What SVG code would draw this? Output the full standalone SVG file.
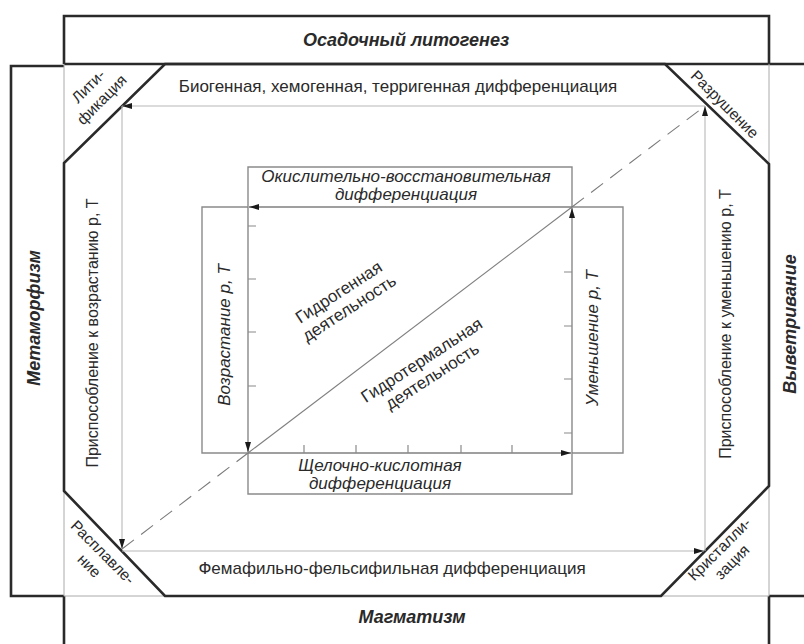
<svg xmlns="http://www.w3.org/2000/svg" width="804" height="644" viewBox="0 0 804 644">
<style>
.t{font-family:"Liberation Sans",Arial,sans-serif;fill:#2a2a2a}
.lab{font-size:17px}
.side{font-size:16px}
.it{font-style:italic}
.bi{font-size:18px;font-weight:bold;font-style:italic}
.cor{font-size:15.5px}
.thick{fill:none;stroke:#2a2a2a;stroke-width:2.6}
.thin{fill:none;stroke:#aaaaaa;stroke-width:1}
.box{fill:none;stroke:#8a8a8a;stroke-width:1.4}
.loop{fill:none;stroke:#b8b8b8;stroke-width:1.1}
.arr{fill:none;stroke:#7f7f7f;stroke-width:1.3}
.tick{stroke:#8a8a8a;stroke-width:1.2}
.dash{fill:none;stroke:#7a7a7a;stroke-width:1.1;stroke-dasharray:15 9}
</style>
<defs>
<marker id="ah" viewBox="0 0 10 6" refX="10" refY="3" markerWidth="10" markerHeight="7" markerUnits="userSpaceOnUse" orient="auto"><path d="M0,0 L10,3 L0,6 z" fill="#1a1a1a"/></marker>
</defs>
<rect x="0" y="0" width="804" height="644" fill="#ffffff"/>

<g id="top-band">
<path class="thick" d="M64,64 V16 H769 V64 M64,64 H804"/>
<text class="t bi" x="406" y="46" text-anchor="middle">Осадочный литогенез</text>
</g>
<g id="left-band">
<path class="thick" d="M64,66 H11 V596 H64"/>
<text class="t bi" transform="translate(40,318) rotate(-90)" text-anchor="middle">Метаморфизм</text>
</g>
<g id="right-band">
<path class="thick" d="M769,596 H804"/>
<text class="t bi" transform="translate(796,324) rotate(-90)" text-anchor="middle">Выветривание</text>
</g>
<g id="bottom-band">
<path class="thick" d="M64,596 V644 M769,596 V644"/>
<text class="t bi" x="412" y="623" text-anchor="middle">Магматизм</text>
</g>

<g id="octagon">
<path class="thin" d="M64,64 V163 M64,491 V596 H165 M661,596 H769 V486 M769,64 V164"/>
<polygon class="thick" points="165,64 665,64 769,164 769,486 661,596 165,596 64,491 64,163"/>
</g>

<g id="lithification">
<g transform="translate(92,90) rotate(-45)">
<text class="t cor" x="0" y="0" text-anchor="middle">Лити-</text>
<text class="t cor" x="0" y="19" text-anchor="middle">фикация</text>
</g>
</g>
<g id="destruction">
<text class="t cor" transform="translate(721,108) rotate(45)" text-anchor="middle">Разрушение</text>
</g>
<g id="melting">
<g transform="translate(99,556) rotate(45)">
<text class="t cor" x="0" y="0" text-anchor="middle">Расплавле-</text>
<text class="t cor" x="0" y="19" text-anchor="middle">ние</text>
</g>
</g>
<g id="crystallization">
<g transform="translate(723,553) rotate(-45)">
<text class="t cor" x="0" y="0" text-anchor="middle">Кристалли-</text>
<text class="t cor" x="0" y="18" text-anchor="middle">зация</text>
</g>
</g>

<g id="outer-cycle-labels">
<text class="t lab" x="398" y="92" text-anchor="middle">Биогенная, хемогенная, терригенная дифференциация</text>
<text class="t lab" x="392" y="574" text-anchor="middle">Фемафильно-фельсифильная дифференциация</text>
<text class="t side" transform="translate(98,333) rotate(-90)" text-anchor="middle">Приспособление к возрастанию р, Т</text>
<text class="t side" transform="translate(731,324) rotate(-90)" text-anchor="middle">Приспособление к уменьшению р, Т</text>
</g>

<g id="box-redox">
<path class="box" d="M248,207 V167 H572 V207"/>
<text class="t lab it" x="406" y="182" text-anchor="middle">Окислительно-восстановительная</text>
<text class="t lab it" x="406" y="200" text-anchor="middle">дифференциация</text>
</g>
<g id="box-increase">
<path class="box" d="M248,207 H202 V453 H248"/>
<text class="t lab it" transform="translate(230,335) rotate(-90)" text-anchor="middle">Возрастание р, Т</text>
</g>
<g id="box-decrease">
<path class="box" d="M572,207 H623 V453 H572"/>
<text class="t lab it" transform="translate(598,338) rotate(-90)" text-anchor="middle">Уменьшение р, Т</text>
</g>
<g id="box-alkali">
<path class="box" d="M248,453 V494 H572 V453"/>
<text class="t lab it" x="380" y="471" text-anchor="middle">Щелочно-кислотная</text>
<text class="t lab it" x="380" y="489" text-anchor="middle">дифференциация</text>
</g>

<g id="hydrogenic">
<g transform="translate(347,305) rotate(-33)">
<text class="t lab" x="0" y="-9.5" text-anchor="middle">Гидрогенная</text>
<text class="t lab" x="0" y="9.5" text-anchor="middle">деятельность</text>
</g>
</g>
<g id="hydrothermal">
<g transform="translate(430,373) rotate(-33)">
<text class="t lab" x="0" y="-9.5" text-anchor="middle">Гидротермальная</text>
<text class="t lab" x="0" y="9.5" text-anchor="middle">деятельность</text>
</g>
</g>

<g id="connectors">
<path class="loop" d="M705,106 H122" marker-end="url(#ah)"/>
<path class="loop" d="M122,106 V549" marker-end="url(#ah)"/>
<path class="loop" d="M122,551 H704" marker-end="url(#ah)"/>
<path class="loop" d="M705,551 V106" marker-end="url(#ah)"/>
<path class="dash" d="M122,549 L248,453 M572,207 L705,106"/>
<path class="arr" d="M248,453 L572,207" style="stroke-width:1.1"/>
<path class="arr" d="M572,207 H249" marker-end="url(#ah)"/>
<path class="arr" d="M248,207 V452" marker-end="url(#ah)"/>
<path class="arr" d="M248,453 H571" marker-end="url(#ah)"/>
<path class="arr" d="M572,453 V208" marker-end="url(#ah)"/>
<path class="tick" d="M248,226 H256 M248,279 H256 M248,332 H256 M248,386 H256 M304,453 V445 M356,453 V445 M408,453 V445 M461,453 V445 M512,453 V445 M572,272 H564 M572,326 H564 M572,379 H564 M572,433 H564"/>
</g>
</svg>
